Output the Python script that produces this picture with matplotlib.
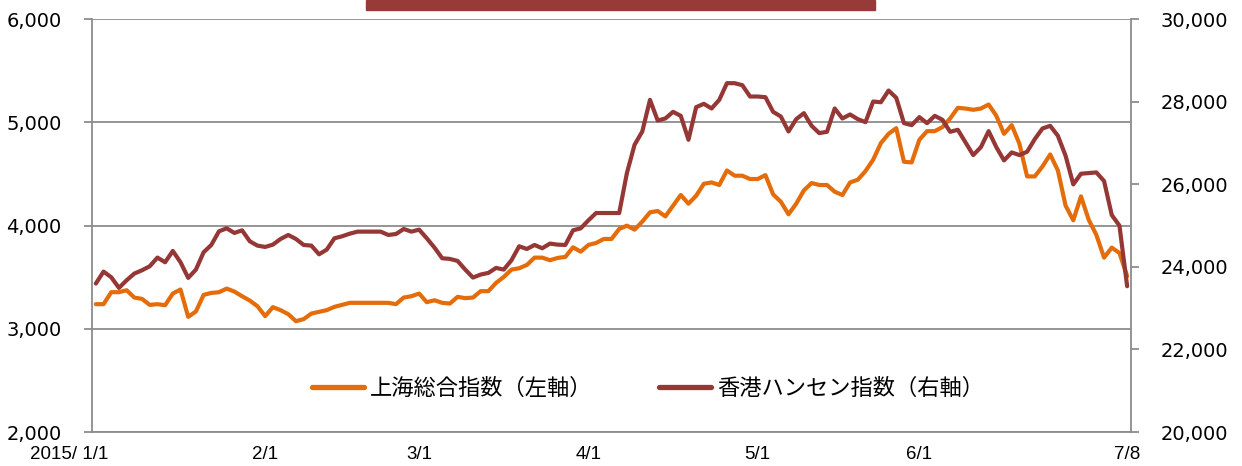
import matplotlib
matplotlib.use('Agg')
import matplotlib.pyplot as plt
from matplotlib.patches import Rectangle
from matplotlib.lines import Line2D
import numpy as np
import pandas as pd

# ---- data ----
dates = pd.bdate_range('2015-01-01', '2015-07-08')

shanghai = [
    3239, 3239, 3355, 3355, 3374, 3303, 3290, 3232, 3239, 3229,
    3342, 3381, 3116, 3168, 3329, 3348, 3355, 3390, 3361, 3316,
    3274, 3219, 3123, 3210, 3181, 3142, 3074, 3094, 3148, 3165,
    3181, 3213, 3232, 3252, 3252, 3252, 3252, 3252, 3252, 3239,
    3303, 3316, 3342, 3258, 3277, 3252, 3245, 3310, 3297, 3303, 3365,
    3365, 3445, 3503, 3574, 3587, 3619, 3690, 3690, 3665, 3687,
    3697, 3790, 3748, 3813, 3832, 3871, 3871, 3968, 4000, 3961,
    4039, 4129, 4142, 4090, 4194, 4297, 4213, 4290, 4406, 4419,
    4394, 4535, 4484, 4484, 4452, 4452, 4490, 4303, 4232, 4110,
    4213, 4342, 4413, 4394, 4394, 4329, 4297, 4419, 4445, 4529,
    4639, 4800,
    4890, 4945, 4619, 4613, 4832, 4916, 4916, 4955, 5039, 5142,
    5135, 5123, 5135, 5174, 5065, 4890, 4974, 4794, 4477, 4477,
    4574, 4690, 4535, 4194, 4052, 4284, 4058, 3910, 3690, 3787,
    3735, 3510,
]

hangseng = [
    23597, 23887, 23750, 23492, 23677, 23839, 23919, 24016, 24226, 24113,
    24387, 24113, 23734, 23935, 24355, 24532, 24863, 24935, 24823, 24887,
    24621, 24516, 24484, 24540, 24677, 24774, 24677, 24532, 24516, 24306,
    24419, 24694, 24742, 24806, 24855, 24855, 24855, 24855, 24774, 24798,
    24919, 24855, 24903, 24694, 24468, 24210, 24194, 24145, 23935, 23742, 23815,
    23855, 23976, 23935, 24161, 24500, 24435, 24532, 24452, 24565, 24540,
    24532, 24887, 24935, 25129, 25306, 25306, 25306, 25306, 26274, 26960,
    27282, 28048, 27548, 27597, 27758, 27661, 27081, 27871, 27952, 27839,
    28048, 28452, 28452, 28403, 28129, 28129, 28113, 27758, 27645, 27282,
    27581, 27726, 27419, 27242, 27274, 27839, 27597, 27694, 27581, 27508,
    28008, 27990,
    28274, 28097, 27484, 27435, 27629, 27484, 27661, 27565, 27274, 27323,
    27016, 26710, 26903, 27290, 26903, 26581, 26774, 26710, 26790, 27097,
    27355, 27419, 27177, 26694, 26000, 26258, 26274, 26290, 26081, 25258,
    25000, 23532,
]

label_dates = ['2015-01-01', '2015-02-02', '2015-03-02', '2015-04-01',
               '2015-05-01', '2015-06-01', '2015-07-08']
label_texts = ['2015/ 1/1', '2/1', '3/1', '4/1', '5/1', '6/1', '7/8']

left_ticks = [2000, 3000, 4000, 5000, 6000]
right_ticks = [20000, 22000, 24000, 26000, 28000, 30000]

series_names = ['上海総合指数（左軸）', '香港ハンセン指数（右軸）']

# ---- style ----
ORANGE = '#E46C0A'
DARKRED = '#953735'
GRAY = '#8C8C8C'
W, H = 1242, 466

fig = plt.figure(figsize=(W / 100, H / 100), dpi=100)
fig.patch.set_facecolor('white')

x = np.arange(len(dates))
ax = fig.add_axes([92 / W, (H - 432) / H, (1131 - 92) / W, (432 - 19.3) / H])
ax2 = ax.twinx()

ax.plot(x, shanghai, color=ORANGE, lw=3.0, solid_joinstyle='round',
        solid_capstyle='round', zorder=3)
ax2.plot(x, hangseng, color=DARKRED, lw=3.0, solid_joinstyle='round',
         solid_capstyle='round', zorder=3)

ax.set_xlim(-0.5, len(dates) - 0.5)
ax.set_ylim(2000, 6000)
ax2.set_ylim(20000, 30000)

ax.set_yticks(left_ticks)
ax.set_yticklabels([f'{v:,}' for v in left_ticks])
ax2.set_yticks(right_ticks)
ax2.set_yticklabels([f'{v:,}' for v in right_ticks])

ax.grid(axis='y', color=GRAY, lw=1.3)
ax.set_axisbelow(True)

for a in (ax, ax2):
    a.spines['top'].set_visible(False)
    for s in a.spines.values():
        s.set_color(GRAY)
        s.set_linewidth(1.3)
ax.spines['right'].set_visible(False)
ax2.spines['left'].set_visible(False)
ax2.spines['bottom'].set_visible(False)

ax.tick_params(axis='x', length=0, labelbottom=False)
ax.tick_params(axis='y', direction='out', length=6, width=1.3, color=GRAY,
               pad=16, labelsize=14, labelcolor='black')
ax2.tick_params(axis='y', direction='out', length=6, width=1.3, color=GRAY,
                pad=15, labelsize=14, labelcolor='black')

# x labels
didx = [dates.searchsorted(pd.Timestamp(d)) for d in label_dates]
for i, (pos, txt) in enumerate(zip(didx, label_texts)):
    dx = -19 if i == 0 else 0
    ax.annotate(txt, xy=(pos, 0), xycoords=('data', 'axes fraction'),
                xytext=(dx, -16.5), textcoords='offset points',
                ha='center', va='center', fontsize=13.5,
                family=['Liberation Sans', 'DejaVu Sans'],
                annotation_clip=False)

# legend
handles = [Line2D([], [], color=ORANGE, lw=3.8, solid_capstyle='round'),
           Line2D([], [], color=DARKRED, lw=3.8, solid_capstyle='round')]
fig.legend(handles, series_names, loc='center',
           bbox_to_anchor=(648 / W, 1 - 388 / H), ncol=2, frameon=False,
           handlelength=2.35, handletextpad=0.25, columnspacing=3.0,
           prop={'family': ['Noto Sans CJK JP', 'DejaVu Sans'], 'size': 16})

# title box (cut off at top)
fig.patches.append(Rectangle((366 / W, 1 - 10 / H), (875 - 366) / W, 10 / H,
                             transform=fig.transFigure, color='#983A38',
                             zorder=0))

fig.savefig('out.png', dpi=100)
